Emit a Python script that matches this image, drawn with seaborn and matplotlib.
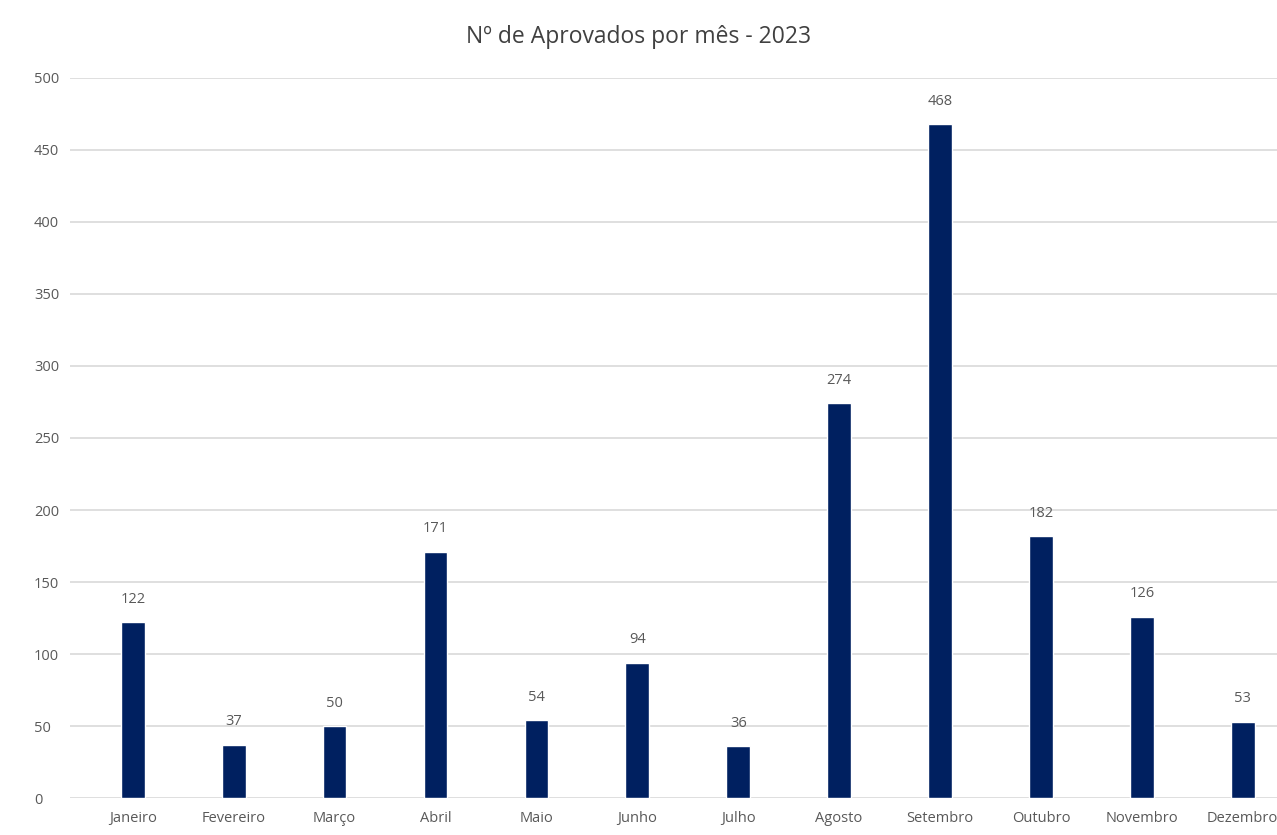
import pandas as pd
import seaborn as sns
import matplotlib.pyplot as plt

# Dados: aprovados por mês em 2023
meses = ["Janeiro", "Fevereiro", "Março", "Abril", "Maio", "Junho",
         "Julho", "Agosto", "Setembro", "Outubro", "Novembro", "Dezembro"]
aprovados = [122, 37, 50, 171, 54, 94, 36, 274, 468, 182, 126, 53]
y_ticks = [0, 50, 100, 150, 200, 250, 300, 350, 400, 450, 500]

df = pd.DataFrame({"Mes": meses, "Aprovados": aprovados})

sns.set_style("white")
plt.rcParams["font.family"] = ["Open Sans", "DejaVu Sans"]

fig = plt.figure(figsize=(12.77, 8.35), dpi=100)
ax = fig.add_axes([0.055, 0.0443, 0.945, 0.8623])

sns.barplot(data=df, x="Mes", y="Aprovados", color="#002060",
            width=0.235, saturation=1, ax=ax)

ax.set_ylim(0, 500)
ax.set_xlim(-0.62, 11.34)
ax.set_yticks(y_ticks)
ax.yaxis.grid(True, color="#d9d9d9", linewidth=1.2)
ax.set_axisbelow(True)
for s in ax.spines.values():
    s.set_visible(False)
ax.tick_params(axis="both", length=0, colors="#595959", labelsize=10.5)
ax.tick_params(axis="x", pad=9)
ax.tick_params(axis="y", pad=26)
for lbl in ax.get_yticklabels():
    lbl.set_horizontalalignment("left")
ax.set_xlabel("")
ax.set_ylabel("")

ax.bar_label(ax.containers[0], padding=11, color="#595959", fontsize=10.5)

fig.suptitle("Nº de Aprovados por mês - 2023", fontsize=16.5, color="#404040", y=0.97)

plt.savefig("out.png", dpi=100)
